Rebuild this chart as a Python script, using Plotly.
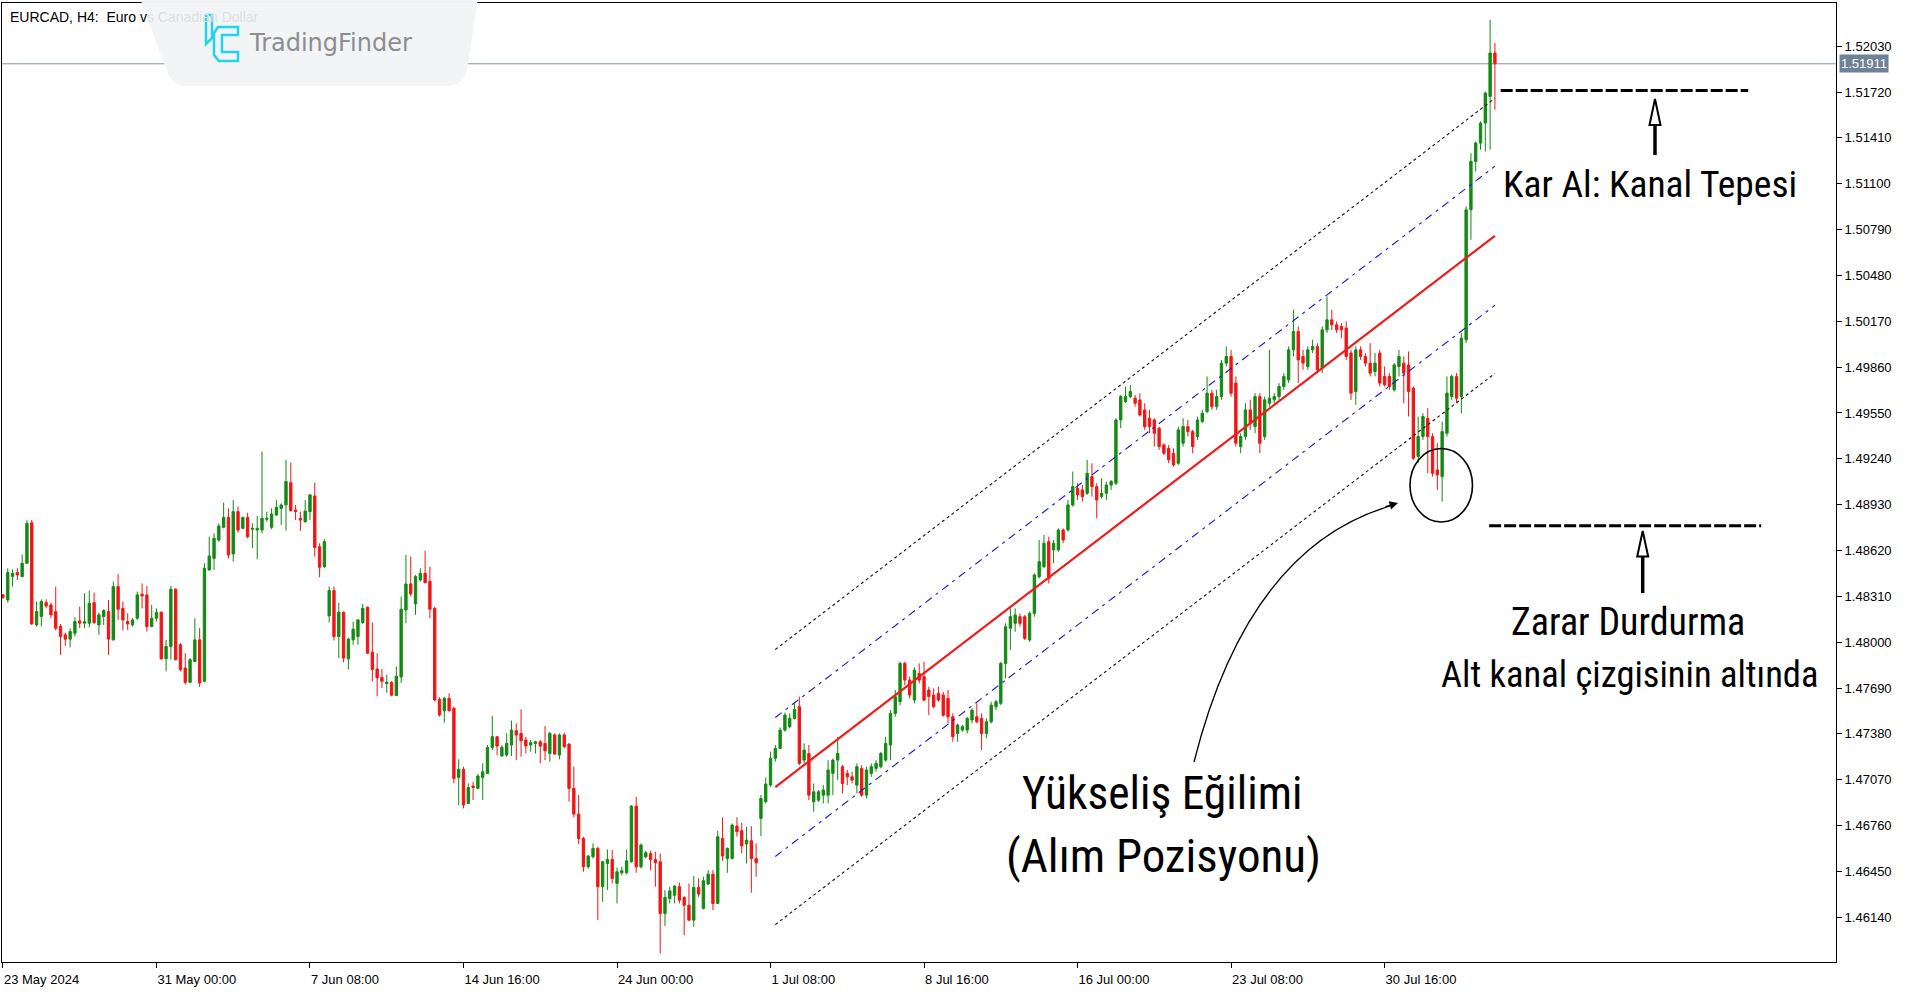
import plotly.graph_objects as go

# ---------------- data ----------------
tick_bars = [0, 32, 64, 96, 128, 160, 192, 224, 256, 288]
tick_text = ["23 May 2024", "31 May 00:00", "7 Jun 08:00", "14 Jun 16:00", "24 Jun 00:00",
             "1 Jul 08:00", "8 Jul 16:00", "16 Jul 00:00", "23 Jul 08:00", "30 Jul 16:00"]
price_ticks = [1.46140, 1.46450, 1.46760, 1.47070, 1.47380, 1.47690, 1.48000, 1.48310, 1.48620,
               1.48930, 1.49240, 1.49550, 1.49860, 1.50170, 1.50480, 1.50790, 1.51100, 1.51410,
               1.51720, 1.52030]

opens = [
    1.48320, 1.48286, 1.48444, 1.48471, 1.48444, 1.48534, 1.48808, 1.48117, 1.48174, 1.48268,
    1.48252, 1.48207, 1.48106, 1.48050, 1.48021, 1.48061, 1.48144, 1.48129, 1.48129, 1.48268,
    1.48117, 1.48174, 1.48207, 1.48016, 1.48376, 1.48229, 1.48140, 1.48117, 1.48162, 1.48324,
    1.48320, 1.48106, 1.48162, 1.48203, 1.47888, 1.47971, 1.48358, 1.47983, 1.47826, 1.47729,
    1.47870, 1.48016, 1.47736, 1.48489, 1.48567, 1.48691, 1.48777, 1.48844, 1.48597, 1.48883,
    1.48770, 1.48844, 1.48764, 1.48759, 1.48759, 1.48831, 1.48777, 1.48860, 1.48905, 1.48928,
    1.49079, 1.48894, 1.48838, 1.48815, 1.48883, 1.48989, 1.48646, 1.48511, 1.48178, 1.48349,
    1.48039, 1.48203, 1.47888, 1.48016, 1.48039, 1.48133, 1.48237, 1.47933, 1.47819, 1.47763,
    1.47720, 1.47729, 1.47640, 1.47765, 1.48218, 1.48394, 1.48259, 1.48421, 1.48466, 1.48412,
    1.48229, 1.47614, 1.47537, 1.47621, 1.47553, 1.47086, 1.47140, 1.46910, 1.47028, 1.47012,
    1.47086, 1.47113, 1.47289, 1.47361, 1.47231, 1.47237, 1.47305, 1.47402, 1.47384, 1.47339,
    1.47305, 1.47316, 1.47327, 1.47316, 1.47248, 1.47373, 1.47237, 1.47373, 1.47312, 1.47012,
    1.46838, 1.46673, 1.46482, 1.46550, 1.46606, 1.46347, 1.46504, 1.46531, 1.46369, 1.46441,
    1.46441, 1.46516, 1.46892, 1.46482, 1.46549, 1.46572, 1.46531, 1.46516, 1.46166, 1.46268,
    1.46290, 1.46347, 1.46274, 1.46222, 1.46121, 1.46342, 1.46200, 1.46365, 1.46432, 1.46234,
    1.46673, 1.46538, 1.46538, 1.46757, 1.46725, 1.46636, 1.46658, 1.46538, 1.46809, 1.46922,
    1.47034, 1.47215, 1.47282, 1.47406, 1.47429, 1.47485, 1.47564, 1.47203, 1.47248, 1.46921,
    1.46932, 1.46966, 1.46966, 1.47113, 1.47203, 1.47158, 1.47113, 1.47090, 1.47034, 1.47147,
    1.46966, 1.47113, 1.47147, 1.47158, 1.47203, 1.47305, 1.47519, 1.47598, 1.47857, 1.47744,
    1.47609, 1.47789, 1.47767, 1.47677, 1.47643, 1.47654, 1.47643, 1.47620, 1.47496, 1.47383,
    1.47406, 1.47406, 1.47474, 1.47496, 1.47485, 1.47383, 1.47462, 1.47564, 1.47587, 1.47857,
    1.48094, 1.48128, 1.48173, 1.48173, 1.48015, 1.48195, 1.48443, 1.48511, 1.48680, 1.48624,
    1.48624, 1.48759, 1.48759, 1.48928, 1.49041, 1.49030, 1.49007, 1.49120, 1.49052, 1.48985,
    1.49007, 1.49063, 1.49075, 1.49503, 1.49627, 1.49661, 1.49650, 1.49638, 1.49571, 1.49514,
    1.49503, 1.49447, 1.49334, 1.49311, 1.49278, 1.49210, 1.49346, 1.49458, 1.49424, 1.49391,
    1.49492, 1.49560, 1.49684, 1.49593, 1.49661, 1.49887, 1.49932, 1.49752, 1.49323, 1.49391,
    1.49571, 1.49458, 1.49661, 1.49391, 1.49616, 1.49639, 1.49661, 1.49729, 1.49774, 1.49977,
    1.50101, 1.49932, 1.49864, 1.49977, 1.50000, 1.49853, 1.50112, 1.50180, 1.50146, 1.50135,
    1.50124, 1.49955, 1.49695, 1.49977, 1.49932, 1.49887, 1.49830, 1.49955, 1.49797, 1.49797,
    1.49707, 1.49864, 1.49887, 1.49875, 1.49718, 1.49256, 1.49391, 1.49514, 1.49391, 1.49165,
    1.49120, 1.49413, 1.49661, 1.49797, 1.49661, 1.50045, 1.50924, 1.51251, 1.51375, 1.51510,
    1.51690, 1.51984,
]
highs = [
    1.48327, 1.48500, 1.48493, 1.48500, 1.48592, 1.48826, 1.48826, 1.48275, 1.48290, 1.48290,
    1.48268, 1.48376, 1.48124, 1.48065, 1.48095, 1.48169, 1.48241, 1.48331, 1.48349, 1.48336,
    1.48201, 1.48223, 1.48286, 1.48410, 1.48462, 1.48275, 1.48196, 1.48162, 1.48342, 1.48398,
    1.48380, 1.48252, 1.48229, 1.48207, 1.48016, 1.48382, 1.48365, 1.47994, 1.47926, 1.47893,
    1.48162, 1.48095, 1.48534, 1.48714, 1.48736, 1.48804, 1.48944, 1.48905, 1.48962, 1.48917,
    1.48849, 1.48876, 1.48804, 1.48853, 1.49289, 1.48883, 1.48905, 1.48962, 1.48939, 1.49233,
    1.49215, 1.48928, 1.48883, 1.48962, 1.49002, 1.49079, 1.48669, 1.48696, 1.48376, 1.48376,
    1.48268, 1.48207, 1.48028, 1.48140, 1.48156, 1.48259, 1.48241, 1.48133, 1.47926, 1.47819,
    1.47781, 1.47736, 1.47837, 1.48309, 1.48590, 1.48579, 1.48455, 1.48500, 1.48617, 1.48511,
    1.48240, 1.47627, 1.47632, 1.47654, 1.47564, 1.47208, 1.47158, 1.47046, 1.47057, 1.47109,
    1.47181, 1.47305, 1.47501, 1.47366, 1.47305, 1.47384, 1.47470, 1.47451, 1.47546, 1.47361,
    1.47339, 1.47334, 1.47339, 1.47433, 1.47395, 1.47384, 1.47384, 1.47388, 1.47316, 1.47158,
    1.46967, 1.46685, 1.46561, 1.46640, 1.46617, 1.46522, 1.46599, 1.46595, 1.46477, 1.46482,
    1.46599, 1.46899, 1.46955, 1.46640, 1.46590, 1.46590, 1.46583, 1.46572, 1.46324, 1.46347,
    1.46358, 1.46374, 1.46283, 1.46369, 1.46419, 1.46403, 1.46414, 1.46459, 1.46459, 1.46725,
    1.46816, 1.46613, 1.46775, 1.46816, 1.46779, 1.46752, 1.46757, 1.46640, 1.46967, 1.47086,
    1.47260, 1.47305, 1.47424, 1.47524, 1.47519, 1.47587, 1.47632, 1.47316, 1.47305, 1.47045,
    1.47000, 1.47034, 1.47203, 1.47214, 1.47361, 1.47169, 1.47136, 1.47124, 1.47181, 1.47169,
    1.47158, 1.47181, 1.47203, 1.47259, 1.47361, 1.47541, 1.47677, 1.47868, 1.47868, 1.47767,
    1.47830, 1.47857, 1.47868, 1.47699, 1.47688, 1.47699, 1.47665, 1.47677, 1.47519, 1.47451,
    1.47440, 1.47496, 1.47553, 1.47587, 1.47519, 1.47485, 1.47598, 1.47609, 1.47868, 1.48128,
    1.48229, 1.48229, 1.48195, 1.48184, 1.48207, 1.48466, 1.48691, 1.48725, 1.48714, 1.48691,
    1.48770, 1.48770, 1.48962, 1.49154, 1.49075, 1.49063, 1.49233, 1.49210, 1.49075, 1.49109,
    1.49086, 1.49097, 1.49514, 1.49672, 1.49729, 1.49740, 1.49672, 1.49684, 1.49616, 1.49571,
    1.49514, 1.49458, 1.49345, 1.49334, 1.49311, 1.49458, 1.49514, 1.49503, 1.49436, 1.49526,
    1.49571, 1.49797, 1.49707, 1.49707, 1.49909, 1.50000, 1.49977, 1.49797, 1.49413, 1.49616,
    1.49639, 1.49684, 1.49684, 1.49661, 1.49977, 1.49684, 1.49752, 1.49820, 1.50000, 1.50248,
    1.50135, 1.49977, 1.50000, 1.50045, 1.50022, 1.50135, 1.50338, 1.50248, 1.50169, 1.50158,
    1.50169, 1.49977, 1.50000, 1.50000, 1.49955, 1.50022, 1.49955, 1.49977, 1.49864, 1.49820,
    1.49887, 1.49977, 1.49932, 1.49966, 1.49729, 1.49526, 1.49548, 1.49582, 1.49413, 1.49346,
    1.49492, 1.49797, 1.49809, 1.49820, 1.50090, 1.50946, 1.51307, 1.51386, 1.51521, 1.51724,
    1.52209, 1.52052,
]
lows = [
    1.48290, 1.48268, 1.48376, 1.48421, 1.48439, 1.48530, 1.48117, 1.48106, 1.48106, 1.48229,
    1.48162, 1.48079, 1.47915, 1.47975, 1.47966, 1.48039, 1.48095, 1.48095, 1.48101, 1.48124,
    1.48050, 1.48117, 1.47915, 1.48012, 1.48151, 1.48079, 1.48083, 1.48106, 1.48151, 1.48229,
    1.48072, 1.48101, 1.48140, 1.47882, 1.47803, 1.47882, 1.47877, 1.47803, 1.47714, 1.47725,
    1.47864, 1.47698, 1.47729, 1.48484, 1.48489, 1.48680, 1.48770, 1.48567, 1.48545, 1.48741,
    1.48764, 1.48703, 1.48635, 1.48561, 1.48736, 1.48815, 1.48764, 1.48853, 1.48793, 1.48755,
    1.48883, 1.48826, 1.48752, 1.48808, 1.48826, 1.48579, 1.48439, 1.48500, 1.48133, 1.48012,
    1.47893, 1.47864, 1.47815, 1.47983, 1.47983, 1.48124, 1.47922, 1.47736, 1.47635, 1.47691,
    1.47658, 1.47635, 1.47635, 1.47725, 1.48129, 1.48309, 1.48185, 1.48410, 1.48398, 1.48162,
    1.47600, 1.47497, 1.47456, 1.47530, 1.47046, 1.46899, 1.46877, 1.46906, 1.46933, 1.47005,
    1.46933, 1.47109, 1.47271, 1.47237, 1.47226, 1.47226, 1.47231, 1.47203, 1.47226, 1.47248,
    1.47260, 1.47248, 1.47181, 1.47203, 1.47192, 1.47237, 1.47208, 1.47282, 1.46922, 1.46816,
    1.46635, 1.46448, 1.46470, 1.46538, 1.46121, 1.46245, 1.46324, 1.46369, 1.46234, 1.46425,
    1.46432, 1.46509, 1.46441, 1.46470, 1.46538, 1.46459, 1.46347, 1.45896, 1.46081, 1.46234,
    1.46234, 1.46234, 1.46019, 1.46116, 1.46076, 1.46279, 1.46193, 1.46358, 1.46189, 1.46229,
    1.46522, 1.46441, 1.46531, 1.46685, 1.46572, 1.46504, 1.46306, 1.46414, 1.46689, 1.46910,
    1.47023, 1.47192, 1.47276, 1.47395, 1.47418, 1.47479, 1.47169, 1.47181, 1.46932, 1.46854,
    1.46921, 1.46910, 1.46910, 1.46966, 1.47068, 1.46978, 1.47034, 1.47045, 1.46978, 1.46955,
    1.46944, 1.47090, 1.47124, 1.47147, 1.47192, 1.47203, 1.47496, 1.47575, 1.47710, 1.47620,
    1.47587, 1.47722, 1.47598, 1.47507, 1.47553, 1.47598, 1.47496, 1.47451, 1.47327, 1.47327,
    1.47395, 1.47383, 1.47451, 1.47451, 1.47271, 1.47350, 1.47451, 1.47541, 1.47575, 1.47756,
    1.47947, 1.48071, 1.48105, 1.48015, 1.48003, 1.48173, 1.48432, 1.48500, 1.48398, 1.48534,
    1.48612, 1.48669, 1.48748, 1.48917, 1.48962, 1.48951, 1.48996, 1.48985, 1.48838, 1.48973,
    1.48962, 1.49030, 1.49063, 1.49447, 1.49616, 1.49650, 1.49593, 1.49526, 1.49436, 1.49413,
    1.49323, 1.49300, 1.49266, 1.49210, 1.49187, 1.49199, 1.49323, 1.49391, 1.49278, 1.49368,
    1.49481, 1.49548, 1.49571, 1.49571, 1.49639, 1.49864, 1.49661, 1.49323, 1.49278, 1.49368,
    1.49436, 1.49413, 1.49278, 1.49368, 1.49593, 1.49616, 1.49639, 1.49707, 1.49752, 1.49932,
    1.49752, 1.49842, 1.49842, 1.49955, 1.49819, 1.49819, 1.50090, 1.50112, 1.50090, 1.50056,
    1.49909, 1.49639, 1.49605, 1.49909, 1.49864, 1.49797, 1.49797, 1.49729, 1.49729, 1.49707,
    1.49695, 1.49797, 1.49616, 1.49526, 1.49233, 1.49211, 1.49368, 1.49143, 1.49120, 1.49030,
    1.48951, 1.49391, 1.49639, 1.49616, 1.49548, 1.50022, 1.50721, 1.51183, 1.51330, 1.51318,
    1.51330, 1.51600,
]
closes = [
    1.48304, 1.48471, 1.48466, 1.48455, 1.48534, 1.48804, 1.48124, 1.48207, 1.48275, 1.48245,
    1.48185, 1.48095, 1.48039, 1.48021, 1.48072, 1.48140, 1.48129, 1.48138, 1.48264, 1.48133,
    1.48185, 1.48214, 1.48021, 1.48376, 1.48223, 1.48151, 1.48124, 1.48151, 1.48320, 1.48313,
    1.48106, 1.48162, 1.48201, 1.47888, 1.47971, 1.48358, 1.47882, 1.47815, 1.47729, 1.47882,
    1.48016, 1.47725, 1.48500, 1.48583, 1.48703, 1.48786, 1.48844, 1.48590, 1.48883, 1.48759,
    1.48844, 1.48714, 1.48770, 1.48770, 1.48838, 1.48838, 1.48867, 1.48912, 1.48928, 1.49086,
    1.48890, 1.48883, 1.48826, 1.48887, 1.48996, 1.48640, 1.48507, 1.48680, 1.48349, 1.48039,
    1.48203, 1.47893, 1.48021, 1.48088, 1.48151, 1.48229, 1.47926, 1.47815, 1.47759, 1.47736,
    1.47729, 1.47642, 1.47770, 1.48223, 1.48394, 1.48327, 1.48444, 1.48466, 1.48403, 1.48223,
    1.47609, 1.47508, 1.47621, 1.47537, 1.47079, 1.47140, 1.46899, 1.47018, 1.47018, 1.47095,
    1.47124, 1.47289, 1.47361, 1.47298, 1.47289, 1.47316, 1.47406, 1.47373, 1.47334, 1.47298,
    1.47321, 1.47327, 1.47298, 1.47266, 1.47384, 1.47244, 1.47373, 1.47294, 1.47012, 1.46838,
    1.46673, 1.46482, 1.46554, 1.46606, 1.46347, 1.46516, 1.46531, 1.46403, 1.46448, 1.46455,
    1.46522, 1.46892, 1.46482, 1.46629, 1.46577, 1.46531, 1.46509, 1.46166, 1.46274, 1.46319,
    1.46351, 1.46256, 1.46222, 1.46121, 1.46342, 1.46297, 1.46387, 1.46432, 1.46234, 1.46685,
    1.46554, 1.46606, 1.46764, 1.46719, 1.46622, 1.46662, 1.46538, 1.46509, 1.46944, 1.47041,
    1.47215, 1.47282, 1.47406, 1.47508, 1.47485, 1.47546, 1.47181, 1.47271, 1.46966, 1.46989,
    1.46989, 1.47000, 1.47136, 1.47203, 1.47248, 1.47045, 1.47090, 1.47068, 1.47158, 1.46966,
    1.47136, 1.47158, 1.47181, 1.47248, 1.47316, 1.47519, 1.47632, 1.47857, 1.47744, 1.47643,
    1.47811, 1.47744, 1.47609, 1.47632, 1.47564, 1.47609, 1.47507, 1.47496, 1.47361, 1.47440,
    1.47429, 1.47485, 1.47541, 1.47462, 1.47383, 1.47462, 1.47575, 1.47598, 1.47857, 1.48105,
    1.48173, 1.48184, 1.48128, 1.48026, 1.48195, 1.48455, 1.48545, 1.48669, 1.48432, 1.48669,
    1.48759, 1.48691, 1.48928, 1.49052, 1.48996, 1.48985, 1.49142, 1.49052, 1.48962, 1.49007,
    1.49063, 1.49086, 1.49503, 1.49661, 1.49661, 1.49695, 1.49616, 1.49537, 1.49458, 1.49458,
    1.49413, 1.49323, 1.49278, 1.49233, 1.49199, 1.49436, 1.49458, 1.49424, 1.49323, 1.49503,
    1.49548, 1.49684, 1.49593, 1.49661, 1.49887, 1.49932, 1.49684, 1.49346, 1.49391, 1.49571,
    1.49481, 1.49661, 1.49346, 1.49639, 1.49650, 1.49661, 1.49729, 1.49797, 1.49977, 1.50101,
    1.49909, 1.49887, 1.49977, 1.50000, 1.49842, 1.50112, 1.50180, 1.50146, 1.50112, 1.50112,
    1.49932, 1.49684, 1.49977, 1.49932, 1.49887, 1.49819, 1.49887, 1.49752, 1.49741, 1.49729,
    1.49875, 1.49932, 1.49819, 1.49695, 1.49244, 1.49391, 1.49526, 1.49391, 1.49143, 1.49131,
    1.49424, 1.49684, 1.49797, 1.49650, 1.50056, 1.50924, 1.51251, 1.51375, 1.51510, 1.51713,
    1.51984, 1.51911,
]
bars = list(range(len(opens)))

# regression channel (start / end bar and price of each line)
channel_bars = [161, 311]
channel_mid = [1.47021, 1.50748]
channel_up1 = [1.47491, 1.51218]
channel_dn1 = [1.46551, 1.50278]
channel_up2 = [1.47951, 1.51678]
channel_dn2 = [1.46091, 1.49818]

last_price = 1.51911
tp_bars = [312.2, 363.8]
tp_level = [1.51730, 1.51730]
sl_bars = [309.8, 366.5]
sl_level = [1.48787, 1.48787]

# ---------------- styling helpers ----------------
W, H = 1920, 997
ML, MR, MT, MB = 2, 84, 3, 35
PW, PH = W - ML - MR, H - MT - MB


def px(x):
    return (x - ML) / PW


def py(y):
    return 1 - (y - MT) / PH


GREEN = "#138a13"
RED = "#f21515"
AXFONT = dict(family="Liberation Sans, Arial, sans-serif", size=13, color="#000000")
BIGFONT = "Liberation Sans Narrow, Arial Narrow, Roboto Condensed, DejaVu Sans Condensed, sans-serif"

fig = go.Figure()

fig.add_trace(go.Candlestick(
    x=bars, open=opens, high=highs, low=lows, close=closes,
    increasing=dict(line=dict(color=GREEN, width=1), fillcolor=GREEN),
    decreasing=dict(line=dict(color=RED, width=1), fillcolor=RED),
    whiskerwidth=0, showlegend=False, hoverinfo="skip",
))

for yy, col, dash, wd in [
    (channel_up2, "#111111", "3px,3px", 1.1),
    (channel_dn2, "#111111", "3px,3px", 1.1),
    (channel_up1, "#1414d2", "8px,5px,3px,5px", 1.1),
    (channel_dn1, "#1414d2", "8px,5px,3px,5px", 1.1),
    (channel_mid, "#f01b1b", "solid", 2.2),
]:
    fig.add_trace(go.Scatter(x=channel_bars, y=yy, mode="lines",
                             line=dict(color=col, width=wd, dash=dash),
                             showlegend=False, hoverinfo="skip"))

for xx, yy in [(tp_bars, tp_level), (sl_bars, sl_level)]:
    fig.add_trace(go.Scatter(x=xx, y=yy, mode="lines",
                             line=dict(color="#000000", width=3, dash="12px,3px"),
                             showlegend=False, hoverinfo="skip", cliponaxis=False))

shapes = []
# current price line
shapes.append(dict(type="line", xref="paper", x0=0, x1=1, yref="y", y0=last_price, y1=last_price,
                   line=dict(color="#8696ab", width=1), layer="below"))
# logo box
shapes.append(dict(type="path", xref="paper", yref="paper", layer="above",
                   path=(f"M {px(140)},{py(-2)} L {px(478)},{py(-2)} L {px(467)},{py(70)} "
                         f"Q {px(463)},{py(86)} {px(447)},{py(86)} L {px(188)},{py(86)} "
                         f"Q {px(172)},{py(86)} {px(167)},{py(72)} Z"),
                   fillcolor="rgba(243,244,246,0.985)", line=dict(width=0)))
# logo icon
shapes.append(dict(type="path", xref="paper", yref="paper", layer="above",
                   path=f"M {px(206)},{py(15)} L {px(212)},{py(15)} L {px(212)},{py(38)} L {px(206)},{py(44)} Z",
                   line=dict(color="#21d4ea", width=2.5)))
shapes.append(dict(type="path", xref="paper", yref="paper", layer="above",
                   path=(f"M {px(238)},{py(27)} L {px(218)},{py(27)} L {px(214)},{py(33)} L {px(214)},{py(55)} "
                         f"L {px(219)},{py(61)} L {px(238)},{py(61)} L {px(238)},{py(52)} L {px(222)},{py(52)} "
                         f"L {px(222)},{py(35)} L {px(238)},{py(35)} Z"),
                   line=dict(color="#21d4ea", width=2.5)))
# ellipse around the low
shapes.append(dict(type="circle", xref="paper", yref="paper",
                   x0=px(1410), x1=px(1472.5), y0=py(522), y1=py(448.5),
                   line=dict(color="#000000", width=1.6)))
# TP arrow (hollow head)
shapes.append(dict(type="line", xref="paper", yref="paper", x0=px(1655), x1=px(1655), y0=py(155), y1=py(125),
                   line=dict(color="#000000", width=3.5)))
shapes.append(dict(type="path", xref="paper", yref="paper",
                   path=f"M {px(1655)},{py(99)} L {px(1660.5)},{py(125)} L {px(1649.5)},{py(125)} Z",
                   fillcolor="#ffffff", line=dict(color="#000000", width=2)))
# SL arrow (hollow head)
shapes.append(dict(type="line", xref="paper", yref="paper", x0=px(1642.7), x1=px(1642.7), y0=py(593), y1=py(556),
                   line=dict(color="#000000", width=3.5)))
shapes.append(dict(type="path", xref="paper", yref="paper",
                   path=f"M {px(1642.7)},{py(531)} L {px(1648.2)},{py(556.5)} L {px(1637.2)},{py(556.5)} Z",
                   fillcolor="#ffffff", line=dict(color="#000000", width=2)))
# curved arrow
shapes.append(dict(type="path", xref="paper", yref="paper",
                   path=f"M {px(1194)},{py(762)} Q {px(1248)},{py(548)} {px(1390)},{py(506)}",
                   line=dict(color="#000000", width=1.3)))

annotations = [
    dict(xref="paper", yref="paper", x=px(8), y=py(17), xanchor="left", yanchor="middle", showarrow=False,
         text="EURCAD, H4:  Euro v<span style='color:#dcdfe3'>s Canadian Dollar</span>",
         font=dict(family="Liberation Sans, Arial, sans-serif", size=14, color="#000000")),
    dict(xref="paper", yref="paper", x=px(247), y=py(43), xanchor="left", yanchor="middle", showarrow=False,
         text="TradingFinder", font=dict(family="DejaVu Sans, sans-serif", size=24, color="#8a8d91")),
    dict(xref="paper", yref="y", x=1, xshift=3, y=last_price, xanchor="left", yanchor="middle", showarrow=False,
         text="1.51911", bgcolor="#6f8197", borderpad=1,
         font=dict(family="Liberation Sans, Arial, sans-serif", size=13, color="#ffffff")),
    dict(xref="paper", yref="paper", x=px(1650), y=py(184), xanchor="center", yanchor="middle", showarrow=False,
         text="Kar Al: Kanal Tepesi", font=dict(family=BIGFONT, size=37.5, color="#000000")),
    dict(xref="paper", yref="paper", x=px(1628), y=py(622), xanchor="center", yanchor="middle", showarrow=False,
         text="Zarar Durdurma", font=dict(family=BIGFONT, size=38, color="#000000")),
    dict(xref="paper", yref="paper", x=px(1629), y=py(674), xanchor="center", yanchor="middle", showarrow=False,
         text="Alt kanal çizgisinin altında", font=dict(family=BIGFONT, size=36.5, color="#000000")),
    dict(xref="paper", yref="paper", x=px(1162), y=py(793), xanchor="center", yanchor="middle", showarrow=False,
         text="Yükseliş Eğilimi", font=dict(family=BIGFONT, size=45.5, color="#000000")),
    dict(xref="paper", yref="paper", x=px(1163), y=py(855), xanchor="center", yanchor="middle", showarrow=False,
         text="(Alım Pozisyonu)", font=dict(family=BIGFONT, size=47, color="#000000")),
    # head of the curved arrow
    dict(xref="paper", yref="paper", x=px(1398), y=py(503), ax=-14, ay=4, axref="pixel", ayref="pixel",
         text="", showarrow=True, arrowhead=2, arrowsize=1.3, arrowwidth=1.3, arrowcolor="#000000", standoff=0),
]

fig.update_layout(
    width=W, height=H,
    margin=dict(l=ML, r=MR, t=MT, b=MB, pad=0),
    paper_bgcolor="#ffffff", plot_bgcolor="#ffffff",
    showlegend=False, shapes=shapes, annotations=annotations,
    xaxis=dict(range=[-0.2, 382.1], showgrid=False, zeroline=False, showline=True, linecolor="#000000",
               linewidth=1, mirror=True, ticks="outside", ticklen=5, tickcolor="#000000",
               tickvals=tick_bars, ticktext=tick_text, ticklabelposition="outside right",
               ticklabelstandoff=5, tickfont=AXFONT, rangeslider=dict(visible=False), fixedrange=True),
    yaxis=dict(range=[1.45838, 1.52322], side="right", showgrid=False, zeroline=False, showline=True,
               linecolor="#000000", linewidth=1, mirror=True, ticks="outside", ticklen=5,
               tickcolor="#000000", tickvals=price_ticks, ticktext=[f"{v:.5f}" for v in price_ticks],
               tickfont=AXFONT, fixedrange=True),
)

fig.write_html("out.html", config={"displayModeBar": False},
               post_script="document.body.style.margin='0';document.body.style.overflow='hidden';")
